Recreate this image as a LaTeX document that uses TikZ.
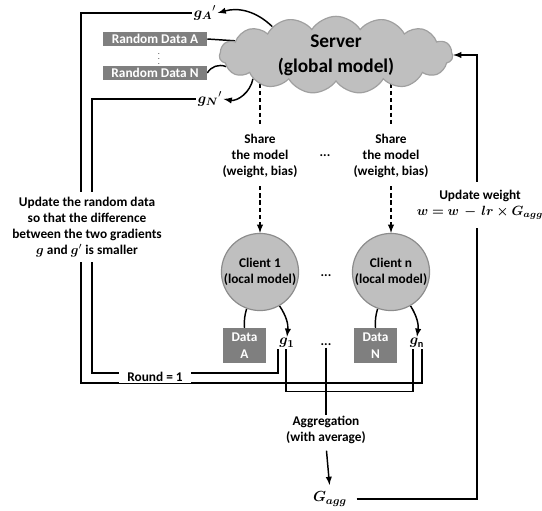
\documentclass[tikz,border=0pt]{standalone}
\usepackage{amsmath}
\usepackage{amssymb}
\usepackage{bm}
\usepackage{fontspec}
\setmainfont{Carlito}
\usepackage{xcolor}
\usepackage{tikz}
\usetikzlibrary{shapes,arrows,positioning,calc,backgrounds}
\definecolor{cloudfill}{HTML}{BFBFBF}
\definecolor{cloudedge}{HTML}{A0A0A0}
\definecolor{clientedge}{HTML}{8C8C8C}
\definecolor{boxgray}{HTML}{7F7F7F}
\tikzset{
  line/.style={
    line width=1.1pt
  },
  arrow/.style={
    -latex,
    line width=1.1pt
  }
}

\begin{document}
\begin{tikzpicture}[
  x=0.75pt, y=0.75pt,
  server_cloud/.style={cloud, cloud puffs=15, cloud puff arc=115, cloud ignores aspect, draw=cloudedge, fill=cloudfill, line width=0.9pt, minimum width=175pt, minimum height=58pt, align=center, inner sep=0pt, font=\bfseries\fontsize{14.5}{18.5}\selectfont},
  client_block/.style={circle, draw=clientedge, fill=cloudfill, line width=0.9pt, minimum size=56pt, inner sep=0pt, align=center, font=\bfseries\fontsize{10}{12}\selectfont},
  data_block/.style={rectangle, fill=boxgray, minimum width=32pt, minimum height=26pt, inner sep=0pt, align=center, text=white, font=\bfseries\fontsize{10}{13}\selectfont},
  random_block/.style={rectangle, fill=boxgray, minimum width=78pt, minimum height=11pt, inner sep=0pt, text=white, font=\bfseries\fontsize{10}{12}\selectfont},
  note/.style={align=center, inner sep=1pt, font=\bfseries\fontsize{10}{12}\selectfont},
  cover/.style={note, fill=white},
  grad/.style={inner sep=1pt, font=\fontsize{11}{13}\selectfont},
  dots/.style={inner sep=1pt, font=\bfseries\fontsize{10}{12}\selectfont},
  share/.style={dash pattern=on 3.2pt off 2.2pt, line width=1.1pt}
]
\useasboundingbox (0,0) rectangle (542,510);

% Server
\node[server_cloud] (server) at (336,455) {Server\\(global model)};

% Random data and gradients of the server
\node[grad] (gA) at (205,497) {${\bm{g}_{\bm{A}}}'$};
\node[random_block] (rndA) at (155,471) {Random Data A};
\node[dots, inner sep=0pt, font=\fontsize{4.5}{4.5}\selectfont] (rnddots) at (159,455) {$\bm{\vdots}$};
\node[random_block] (rndN) at (155,437) {Random Data N};
\node[grad] (gN) at (210,411) {${\bm{g}_{\bm{N}}}'$};

% Sharing the model
\node[note, inner sep=6pt] (share1) at (260,354) {Share\\the model\\(weight, bias)};
\node[dots] (sharedots) at (325,354) {...};
\node[note, inner sep=6pt] (share2) at (391,354) {Share\\the model\\(weight, bias)};

% Clients
\node[client_block] (client1) at (260,238) {Client 1\\(local model)};
\node[dots] (clientdots) at (326,234) {...};
\node[client_block] (clientn) at (391,238) {Client n\\(local model)};

% Local data and gradients
\node[data_block] (dataA) at (244.5,164.5) {Data\\A};
\node[grad] (g1) at (287,167) {$\bm{g}_{\bm{1}}$};
\node[dots] (gdots) at (326,165) {...};
\node[data_block] (dataN) at (375.5,164.5) {Data\\N};
\node[grad] (gn) at (417,167) {$\bm{g}_{\mathbf{n}}$};

% Labels on the loops
\node[cover, inner xsep=6pt] (round) at (155,133) {Round = 1};
\node[cover, inner ysep=4pt] (updrand) at (87,283) {Update the random data\\so that the difference\\between the two gradients\\$\bm{g}$ and $\bm{g}'$ is smaller};
\node[note] (agg) at (326,80) {Aggregation\\(with average)};
\node[grad] (Gagg) at (330,11) {$\bm{G}_{\bm{agg}}$};
\node[cover, inner ysep=6pt, inner xsep=0pt] (updw) at (480,305) {Update weight\\{\fontsize{10}{12}\selectfont$\bm{w} \bm{=} \bm{w} \,\bm{-}\, \bm{lr} \bm{\times} \bm{G}_{\bm{agg}}$}};

\begin{scope}[on background layer]
% Server to random data
\draw[arrow] (server.156) to[bend right=30] (gA.east);
\draw[line] (rndA.east) -- (server.172);
\draw[line] (rndN.east) to[bend left=40] (server.186);
\draw[arrow] (server.196) to[bend left=45] (gN.east);

% Server to clients
\draw[share] (share1 |- server.center) -- (share1.north);
\draw[share, -latex] (share1.south) -- (client1.north);
\draw[share] (share2 |- server.center) -- (share2.north);
\draw[share, -latex] (share2.south) -- (clientn.north);

% Clients to data and gradients
\draw[line] (client1.250) to[bend right=10] (dataA.north);
\draw[arrow] (client1.300) to[bend left=20] (g1.north);
\draw[line] (clientn.250) to[bend right=10] (dataN.north);
\draw[arrow] (clientn.300) to[bend left=20] (gn.north);

% Loops back to the random data
\draw[line] ($(gn.south)+(5,0)$) |- (81,127) |- (gA.west);
\draw[line] ($(g1.south)+(-9,0)$) |- (92,137) |- (gN.west);

% Aggregation
\draw[line] ($(g1.south)+(-1,0)$) -- ++(0,-42) -| ($(gn.south)+(-4,0)$);
\draw[line] (gdots.south) -- (agg.north);
\draw[arrow, shorten <=4pt, shorten >=4pt] (agg.south) -- (Gagg.north);
\draw[arrow, shorten <=6pt] (Gagg.east) -| ($(server.east)+(24,0)$) -- (server.east);
\end{scope}

\end{tikzpicture}
\end{document}
